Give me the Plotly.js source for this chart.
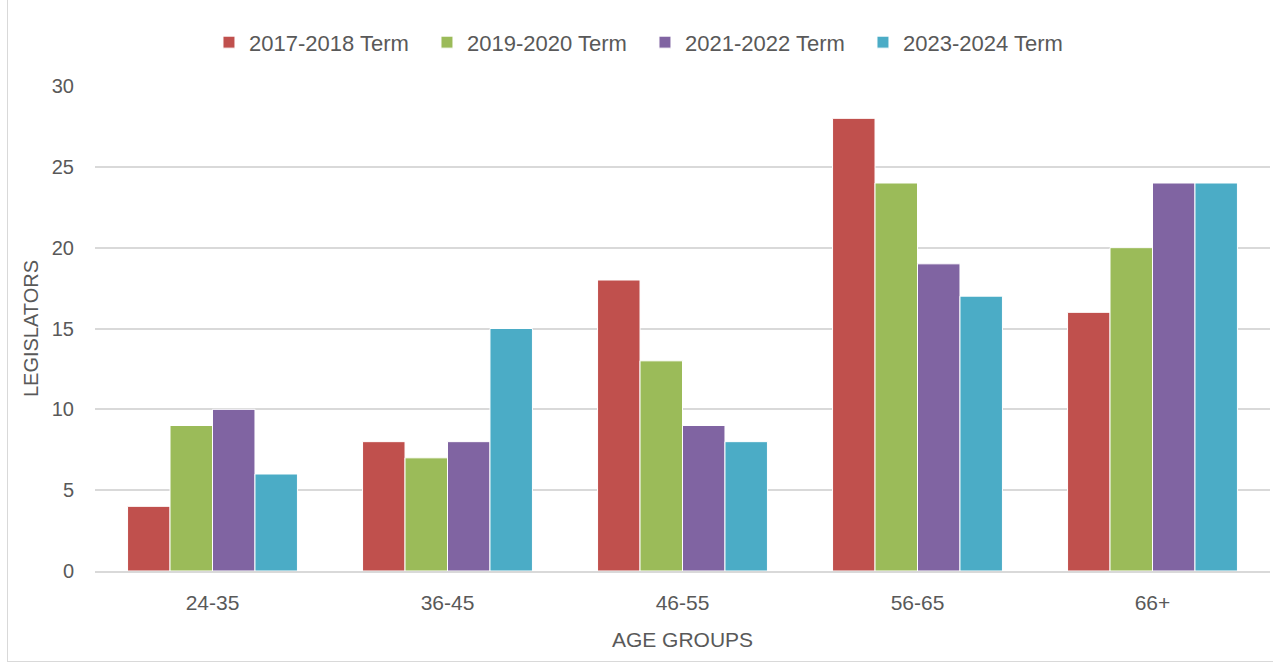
<!DOCTYPE html>
<html>
<head>
<meta charset="utf-8">
<script src="https://cdn.plot.ly/plotly-3.0.1.min.js"></script>
<style>
html,body{margin:0;padding:0;background:#fff;}
#wrap{position:relative;width:1273px;height:665px;}
#chart{width:1273px;height:665px;}
#frame{position:absolute;left:7px;top:-2px;width:1270px;height:664px;border:1.5px solid #d9d9d9;box-sizing:border-box;pointer-events:none;}
</style>
</head>
<body>
<div id="wrap"><div id="chart"></div><div id="frame"></div></div>
<script>
const categories = ["24-35", "36-45", "46-55", "56-65", "66+"];
const seriesNames = ["2017-2018 Term", "2019-2020 Term", "2021-2022 Term", "2023-2024 Term"];
const term2017 = [4, 8, 18, 28, 16];
const term2019 = [9, 7, 13, 24, 20];
const term2021 = [10, 8, 9, 19, 24];
const term2023 = [6, 15, 8, 17, 24];
const colors = ["#C0504D", "#9BBB59", "#8064A2", "#4BACC6"];
const allValues = [term2017, term2019, term2021, term2023];

const font = "Liberation Sans, Arial, sans-serif";
const traces = allValues.map((vals, i) => ({
  type: "bar",
  name: seriesNames[i],
  x: categories,
  y: vals,
  marker: {color: colors[i], line: {color: "#ffffff", width: 1}},
  hoverinfo: "x+y+name"
}));

const layout = {
  width: 1273, height: 665,
  margin: {l: 95, r: 3, t: 86, b: 94},
  paper_bgcolor: "#ffffff", plot_bgcolor: "#ffffff",
  barmode: "group", bargap: 0.277, bargroupgap: 0,
  font: {family: font, color: "#595959", size: 20},
  showlegend: true,
  legend: {orientation: "h", x: 0.097, xanchor: "left", xref: "paper", y: 1.09, yanchor: "middle",
    font: {size: 22, color: "#595959"}, traceorder: "normal",
    entrywidth: 173, entrywidthmode: "pixels"},
  xaxis: {
    type: "category",
    showgrid: false,
    showline: true, linecolor: "#d9d9d9", linewidth: 1.5,
    ticks: "", tickfont: {size: 21, color: "#595959"},
    ticklabelstandoff: 12,
    title: {text: "AGE GROUPS", font: {size: 21, color: "#595959"}, standoff: 19}
  },
  yaxis: {
    range: [0, 30], dtick: 5, tick0: 0,
    showgrid: true, gridcolor: "#d9d9d9", gridwidth: 1.5,
    zeroline: false, showline: false, ticks: "",
    tickfont: {size: 20, color: "#595959"},
    ticklabelstandoff: 20,
    title: {text: "LEGISLATORS", font: {size: 20, color: "#595959"}, standoff: 7}
  }
};

Plotly.newPlot("chart", traces, layout, {displayModeBar: false, responsive: false});
</script>
</body>
</html>
